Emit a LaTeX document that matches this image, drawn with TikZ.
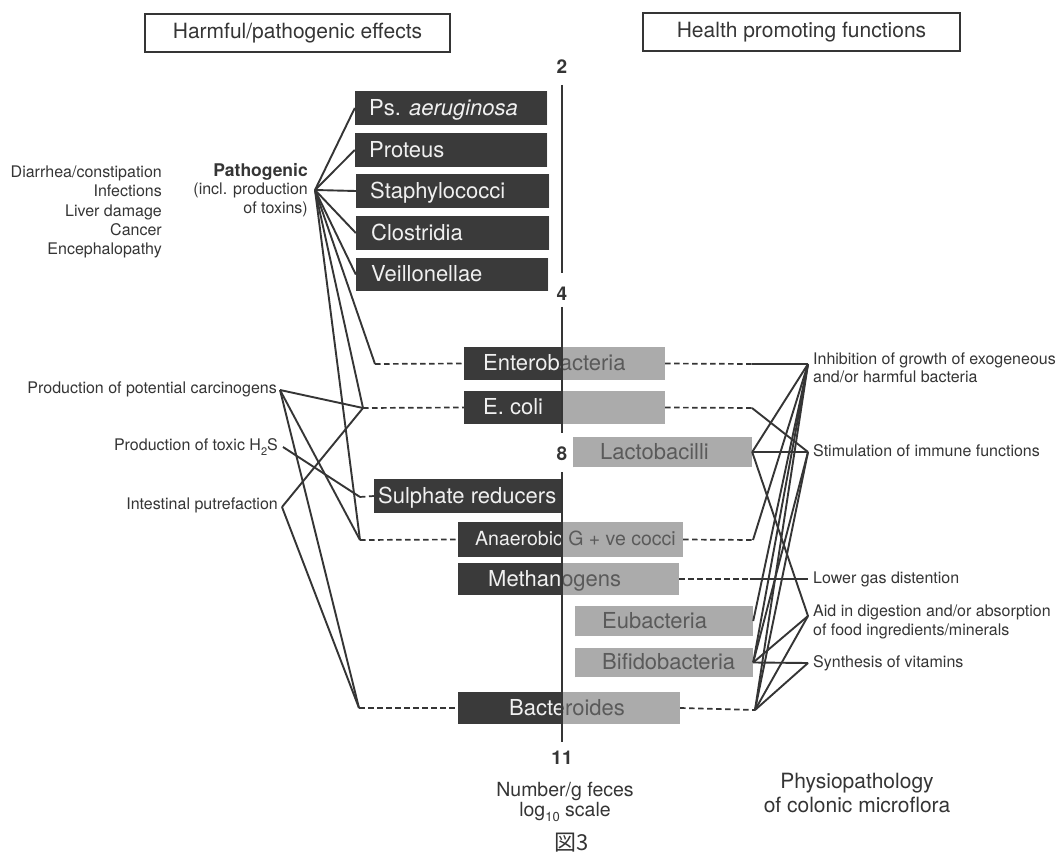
\documentclass[tikz,border=0pt]{standalone}
\usepackage{fontspec}
\setmainfont{TeX Gyre Heros}
\newfontfamily\cjkfont{Noto Sans CJK JP}
\usetikzlibrary{fit}
\definecolor{ink}{HTML}{353535}
\definecolor{boxdark}{HTML}{3A3A3A}
\definecolor{boxdot}{HTML}{ABABAB}
\definecolor{dottext}{HTML}{5A5A5A}
\definecolor{lighttext}{HTML}{F0F0F0}
\tikzset{
  conn/.style={draw=ink, line width=1.9pt},
  dline/.style={draw=ink, line width=1.7pt, dash pattern=on 5.5pt off 3.5pt},
  axisline/.style={draw=ink, line width=1.8pt},
  hdr/.style={draw=ink, line width=1.4pt, minimum height=38pt, inner sep=0pt, font=\fontsize{21}{25}\selectfont, text=ink},
  lbl/.style={font=\fontsize{16}{18.5}\selectfont, text=ink, inner sep=0pt},
  scl/.style={font=\fontsize{19}{22}\selectfont\bfseries, text=ink, inner sep=0pt},
  big/.style={font=\fontsize{20}{21}\selectfont, text=ink, inner sep=0pt, align=center},
}
\newcommand\bact[9]{%
  \fill[boxdark] (#2,#5) rectangle (#3,#6);
  \fill[boxdot] (#3,#5) rectangle (#4,#6);
  \node[fit={(#2,#5) (#4,#6)}, inner sep=0pt] (#1) {};
  \begin{scope}
    \clip (#2,#5) rectangle (#3,#6);
    \node[inner sep=0pt, anchor=base west, text=lighttext, font=\fontsize{#8}{#8}\selectfont] (#1-l) at (#7,{(#5+#6)/2+0.32*#8}) {#9};
  \end{scope}
  \begin{scope}
    \clip (#3,#5) rectangle (#4,#6);
    \node[inner sep=0pt, anchor=base west, text=dottext, font=\fontsize{#8}{#8}\selectfont] (#1-r) at (#7,{(#5+#6)/2+0.32*#8}) {#9};
  \end{scope}
}
\begin{document}
\begin{tikzpicture}[x=1pt,y=-1pt]
\useasboundingbox (0,0) rectangle (1061,861);
\fill[white] (0,0) rectangle (1061,861);

% headers
\node[hdr, minimum width=305pt] (hL) at (297.5,33) {Harmful/pathogenic effects};
\node[hdr, minimum width=317pt] (hR) at (801.5,32) {Health promoting functions};

% scale
\node[scl] (s2) at (562,67) {2};
\node[scl] (s4) at (562,294) {4};
\node[scl] (s8) at (562,454) {8};
\node[scl] (s11) at (562,758) {11};
\coordinate (ax1) at (562,85);
\coordinate (ax2) at (562,273);
\coordinate (ax3) at (562,307);
\coordinate (ax4) at (562,433);
\coordinate (ax5) at (562,472);
\coordinate (ax6) at (562,742);

% bacteria boxes
\bact{ps}{355}{547}{547}{91}{125}{369}{22}{Ps. \textit{aeruginosa}}
\bact{pro}{355}{547}{547}{133}{167}{369}{22}{Proteus}
\bact{sta}{356}{549}{549}{174}{208}{370}{22}{Staphylococci}
\bact{clo}{356}{549}{549}{216}{250}{371}{22}{Clostridia}
\bact{vei}{356}{548}{548}{258}{291}{371}{22}{Veillonellae}
\bact{ent}{464}{562}{665}{347}{380}{483}{22}{Enterobacteria}
\bact{eco}{464}{562}{665}{391}{424}{483}{22}{E. coli}
\bact{lac}{573}{573}{752}{437}{467}{600}{22}{Lactobacilli}
\bact{sul}{374}{562}{562}{479}{513}{378}{22}{Sulphate reducers}
\bact{ana}{458}{562}{683}{522}{557}{475}{19.5}{Anaerobic G + ve cocci}
\bact{met}{458}{563}{679}{563}{595}{488}{22}{Methanogens}
\bact{eub}{575}{575}{753}{606}{636}{602}{22}{Eubacteria}
\bact{bif}{575}{575}{753}{648}{677}{602}{22}{Bifidobacteria}
\bact{bac}{458}{563}{680}{692}{724}{509}{22}{Bacteroides}

% axis (over boxes)
\draw[axisline] (ax1) -- (ax2);
\draw[axisline] (ax3) -- (ax4);
\draw[axisline] (ax5) -- (ax6);

% left labels
\node[lbl, align=right, anchor=east, font=\fontsize{16}{19.3}\selectfont] (dis) at (162,212)
  {Diarrhea/constipation\\Infections\\Liver damage\\Cancer\\Encephalopathy};
\node[lbl, align=right, anchor=east] (path) at (308,190)
  {{\fontsize{17.5}{18.5}\selectfont\bfseries Pathogenic}\\(incl. production\\of toxins)};
\node[lbl, anchor=east] (carc) at (277,389) {Production of potential carcinogens};
\node[lbl, anchor=east] (hs) at (278,447) {Production of toxic H\raisebox{-5pt}{\fontsize{11}{11}\selectfont 2}S};
\node[lbl, anchor=east] (put) at (278,505) {Intestinal putrefaction};

\coordinate (aP) at (315,190);
\coordinate (aC) at (280,390);
\coordinate (aH) at (283,447);
\coordinate (aPu) at (282,507);

\coordinate (lEnt) at (375,364);
\coordinate (lEco) at (363,408);
\coordinate (lSul) at (360,497);
\coordinate (lAna) at (360,540);
\coordinate (lBac) at (359,708);

% right labels
\node[lbl, align=left, anchor=west] (tI) at (813,368)
  {Inhibition of growth of exogeneous\\and/or harmful bacteria};
\node[lbl, anchor=west] (tS) at (813,451) {Stimulation of immune functions};
\node[lbl, anchor=west] (tL) at (813,579) {Lower gas distention};
\node[lbl, align=left, anchor=west] (tA) at (813,622)
  {Aid in digestion and/or absorption\\of food ingredients/minerals};
\node[lbl, anchor=west] (tV) at (813,663) {Synthesis of vitamins};

\coordinate (aI) at (808,364);
\coordinate (aS) at (808,452);
\coordinate (aL) at (808,579);
\coordinate (aA) at (808,616);
\coordinate (aV) at (808,663);

\coordinate (rEnt) at (752,364);
\coordinate (rEco) at (752,408);
\coordinate (rAna) at (753,540);
\coordinate (rMet) at (750,579);
\coordinate (rBac) at (755,710);

% left connectors
\draw[conn] (aP) -- (ps.west);
\draw[conn] (aP) -- (pro.west);
\draw[conn] (aP) -- (sta.west);
\draw[conn] (aP) -- (clo.west);
\draw[conn] (aP) -- (vei.west);
\draw[conn] (aP) -- (lEnt);
\draw[conn] (aP) -- (lEco);
\draw[conn] (aP) -- (lAna);
\draw[conn] (aC) -- (lEco);
\draw[conn] (aC) -- (lAna);
\draw[conn] (aC) -- (lBac);
\draw[conn] (aH) -- (lSul);
\draw[conn] (aPu) -- (lEco);
\draw[conn] (aPu) -- (lBac);

\draw[dline] (lEnt) -- (ent.west);
\draw[dline] (lEco) -- (eco.west);
\draw[dline] (lSul) -- (sul.west);
\draw[dline] (lAna) -- (ana.west);
\draw[dline] (lBac) -- (bac.west);

% right connectors
\draw[dline] (ent.east) -- (rEnt);
\draw[dline] (eco.east) -- (rEco);
\draw[dline] (ana.east) -- (rAna);
\draw[dline] (met.east) -- (rMet);
\draw[dline] (bac.east) -- (rBac);

\draw[conn] (rEnt) -- (aI);
\draw[conn] (rEco) -- (aS);
\draw[conn] (lac.east) -- (aI);
\draw[conn] (lac.east) -- (aS);
\draw[conn] (lac.east) -- (aA);
\draw[conn] (rAna) -- (aI);
\draw[conn] (rMet) -- (aL);
\draw[conn] (eub.east) -- (aI);
\draw[conn] (bif.east) -- (aI);
\draw[conn] (bif.east) -- (aS);
\draw[conn] (bif.east) -- (aA);
\draw[conn] (bif.east) -- (aV);
\draw[conn] (rBac) -- (aI);
\draw[conn] (rBac) -- (aS);
\draw[conn] (rBac) -- (aA);
\draw[conn] (rBac) -- (aV);

% bottom texts
\node[big, font=\fontsize{19.5}{21}\selectfont] (numg) at (565,791) {Number/g feces};
\node[big, font=\fontsize{19.5}{21}\selectfont] (logs) at (565,812) {log\raisebox{-5pt}{\fontsize{13}{13}\selectfont 10} scale};
\node[big, font=\fontsize{21}{24}\selectfont] (phys) at (857,793) {Physiopathology\\of colonic microflora};
\node[inner sep=0pt, text=ink, font=\fontsize{22}{24}\selectfont\cjkfont] (fig) at (572,843) {図3};
\end{tikzpicture}
\end{document}
